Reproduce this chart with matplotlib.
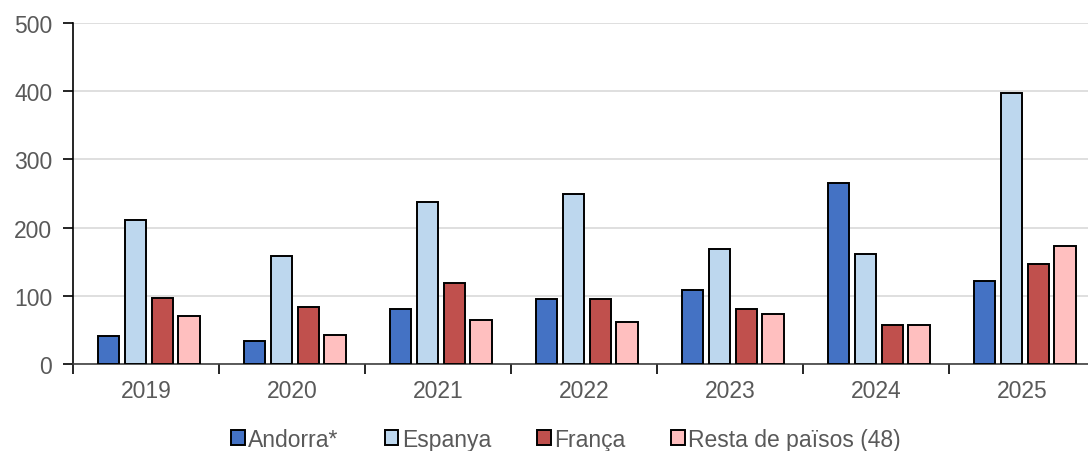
import matplotlib
matplotlib.use("Agg")
from matplotlib import pyplot as plt
import numpy as np

# data
years = ["2019", "2020", "2021", "2022", "2023", "2024", "2025"]
andorra = [41, 33, 81, 95, 108, 265, 122]
espanya = [211, 159, 238, 249, 168, 162, 397]
franca = [97, 84, 119, 95, 81, 57, 146]
resta = [70, 43, 65, 62, 73, 57, 173]

series_names = ["Andorra*", "Espanya", "França", "Resta de països (48)"]
colors = ["#4472C4", "#BDD7EE", "#C0504D", "#FFBFBF"]

plt.rcParams["font.family"] = ["Liberation Sans", "DejaVu Sans"]

fig = plt.figure(figsize=(10.88, 4.52), dpi=100)
ax = fig.add_axes([73 / 1088, 87 / 452, 1022 / 1088, 341 / 452])

x = np.arange(len(years))
step = 0.183
width = 0.145
for i, (vals, name, col) in enumerate(zip([andorra, espanya, franca, resta], series_names, colors)):
    ax.bar(x + (i - 1.5) * step + 0.02, vals, width, color=col, edgecolor="black",
           linewidth=1.4, label=name, zorder=3)

ax.set_xlim(-0.5, len(years) - 0.5)
ax.set_ylim(0, 500)
ax.set_yticks(range(0, 501, 100))
ax.yaxis.grid(True, color="#d9d9d9", linewidth=1.2, zorder=0)

# ticks at group boundaries, labels at group centres
ax.set_xticks(np.arange(-0.5, len(years), 1.0))
ax.set_xticklabels([])
ax.set_xticks(x, minor=True)
ax.set_xticklabels(years, minor=True)
ax.tick_params(axis="x", which="major", length=7, width=1.2, color="black")
ax.tick_params(axis="x", which="minor", length=0, pad=11, labelsize=16.5, labelcolor="#595959")
ax.tick_params(axis="y", length=7, width=1.2, labelsize=16.5, labelcolor="#595959", pad=8)

for side in ["top", "right"]:
    ax.spines[side].set_visible(False)
ax.spines["left"].set_linewidth(1.2)
ax.spines["bottom"].set_linewidth(1.2)
ax.spines["bottom"].set_color("#404040")

fig.legend(loc="lower center", bbox_to_anchor=(566 / 1088, -0.045), ncol=4, frameon=False,
           fontsize=16.5, handlelength=0.6, handleheight=0.6, handletextpad=0.15,
           columnspacing=2.0, labelcolor="#595959")

fig.savefig("out.png", dpi=100)
